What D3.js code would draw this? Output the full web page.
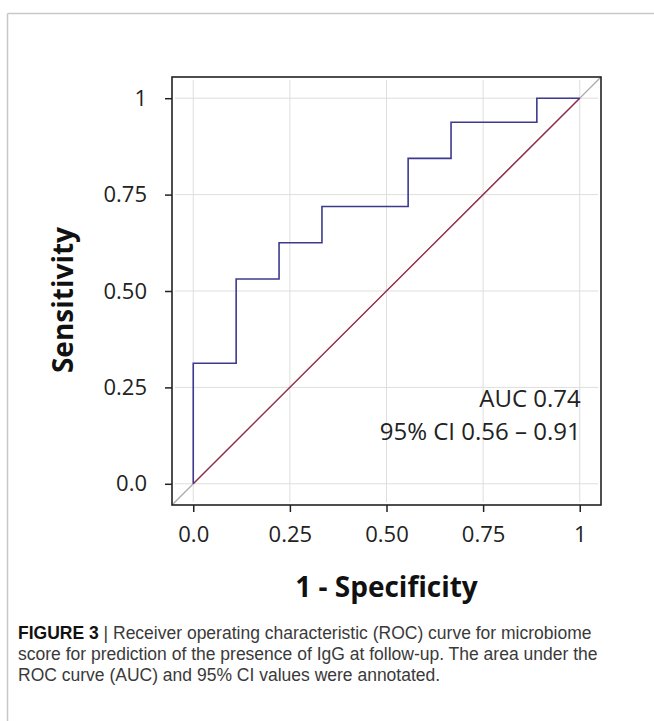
<!DOCTYPE html>
<html>
<head>
<meta charset="utf-8">
<script src="https://cdn.jsdelivr.net/npm/d3@7"></script>
<style>
  html, body { margin: 0; padding: 0; background: #fff; }
  svg { display: block; }
</style>
</head>
<body>
<script>
// ---- data ----
const rocFpr = [0, 0, 0.111, 0.222, 0.333, 0.556, 0.667, 0.889, 1];
const rocTpr = [0, 0.3125, 0.531, 0.625, 0.719, 0.844, 0.9375, 1, 1];
const xTicks = [0, 0.25, 0.5, 0.75, 1];
const xTickLabels = ["0.0", "0.25", "0.50", "0.75", "1"];
const yTicks = [0, 0.25, 0.5, 0.75, 1];
const yTickLabels = ["0.0", "0.25", "0.50", "0.75", "1"];
const annotation = ["AUC 0.74", "95% CI 0.56 \u2013 0.91"];
const xTitle = "1 - Specificity";
const yTitle = "Sensitivity";
const captionBold = "FIGURE 3";
const captionLines = [
  " | Receiver operating characteristic (ROC) curve for microbiome",
  "score for prediction of the presence of IgG at follow-up. The area under the",
  "ROC curve (AUC) and 95% CI values were annotated."
];

const W = 654, H = 721;
const svg = d3.select("body").append("svg").attr("width", W).attr("height", H);

// page frame
svg.append("line").attr("x1", 7.5).attr("x2", W).attr("y1", 13.5).attr("y2", 13.5)
  .attr("stroke", "#c8c8c8").attr("stroke-width", 1.5);
svg.append("line").attr("x1", 7.5).attr("x2", 7.5).attr("y1", 13.5).attr("y2", H)
  .attr("stroke", "#c8c8c8").attr("stroke-width", 1.5);

const L = 172, R = 601, T = 77, B = 505;
const x = d3.scaleLinear().domain([-0.055, 1.055]).range([L, R]);
const y = d3.scaleLinear().domain([-0.055, 1.055]).range([B, T]);

// grid
const g = svg.append("g");
g.selectAll(".vg").data(xTicks).enter().append("line")
  .attr("x1", d => x(d)).attr("x2", d => x(d)).attr("y1", T + 3).attr("y2", B - 3)
  .attr("stroke", "#dedede").attr("stroke-width", 1);
g.selectAll(".hg").data(yTicks).enter().append("line")
  .attr("y1", d => y(d)).attr("y2", d => y(d)).attr("x1", L + 3).attr("x2", R - 3)
  .attr("stroke", "#dedede").attr("stroke-width", 1);

// diagonal reference (gray, full box)
g.append("line")
  .attr("x1", x(-0.055)).attr("y1", y(-0.055)).attr("x2", x(1.055)).attr("y2", y(1.055))
  .attr("stroke", "#a8a8a8").attr("stroke-width", 1.2);
// chance line (dark red)
g.append("line")
  .attr("x1", x(0)).attr("y1", y(0)).attr("x2", x(1)).attr("y2", y(1))
  .attr("stroke", "#9a2a45").attr("stroke-width", 1.3);

// ROC step curve
const pts = rocFpr.map((f, i) => [f, rocTpr[i]]);
const line = d3.line().x(d => x(d[0])).y(d => y(d[1])).curve(d3.curveStepAfter);
g.append("path").attr("d", line(pts)).attr("fill", "none")
  .attr("stroke", "#3d3a8e").attr("stroke-width", 1.6);

// box
svg.append("rect").attr("x", L).attr("y", T).attr("width", R - L).attr("height", B - T)
  .attr("fill", "none").attr("stroke", "#222").attr("stroke-width", 1.6);

// axes
const fontFam = "'Open Sans', 'Noto Sans', sans-serif";
const xAxis = d3.axisBottom(x).tickValues(xTicks).tickFormat((d, i) => xTickLabels[i])
  .tickSizeInner(7).tickSizeOuter(0).tickPadding(14);
const gx = svg.append("g").attr("transform", `translate(0,${B})`).call(xAxis);
gx.select(".domain").remove();
gx.selectAll(".tick line").attr("stroke", "#222").attr("stroke-width", 1.5);
gx.selectAll(".tick text").attr("font-family", fontFam).attr("font-size", 22).attr("fill", "#222");

const yAxis = d3.axisLeft(y).tickValues(yTicks).tickFormat((d, i) => yTickLabels[i])
  .tickSizeInner(7).tickSizeOuter(0).tickPadding(18);
const gy = svg.append("g").attr("transform", `translate(${L},0)`).call(yAxis);
gy.select(".domain").remove();
gy.selectAll(".tick line").attr("stroke", "#222").attr("stroke-width", 1.5);
gy.selectAll(".tick text").attr("font-family", fontFam).attr("font-size", 22).attr("fill", "#222");

// annotation
svg.append("g").selectAll("text").data(annotation).enter().append("text")
  .attr("x", x(1) + 1).attr("y", (d, i) => y(0.2) + i * 33.5)
  .attr("text-anchor", "end").attr("font-family", fontFam).attr("font-size", 24)
  .attr("fill", "#222").text(d => d);

// titles
svg.append("text").attr("x", (L + R) / 2).attr("y", 597)
  .attr("text-anchor", "middle").attr("font-family", fontFam).attr("font-weight", 700)
  .attr("font-size", 28).attr("fill", "#111").text(xTitle);
svg.append("text").attr("transform", `translate(73,300) rotate(-90)`)
  .attr("text-anchor", "middle").attr("font-family", fontFam).attr("font-weight", 700)
  .attr("font-size", 28).attr("fill", "#111").text(yTitle);

// caption
const cap = svg.append("text").attr("font-family", "'Liberation Sans', Arial, sans-serif")
  .attr("font-size", 17.5).attr("fill", "#3a3a3a");
const first = cap.append("tspan").attr("x", 18).attr("y", 639);
first.append("tspan").attr("font-weight", 700).attr("fill", "#111").text(captionBold);
first.append("tspan").text(captionLines[0]);
captionLines.slice(1).forEach((t, i) => {
  cap.append("tspan").attr("x", 18).attr("y", 639 + (i + 1) * 21).text(t);
});
</script>
</body>
</html>
